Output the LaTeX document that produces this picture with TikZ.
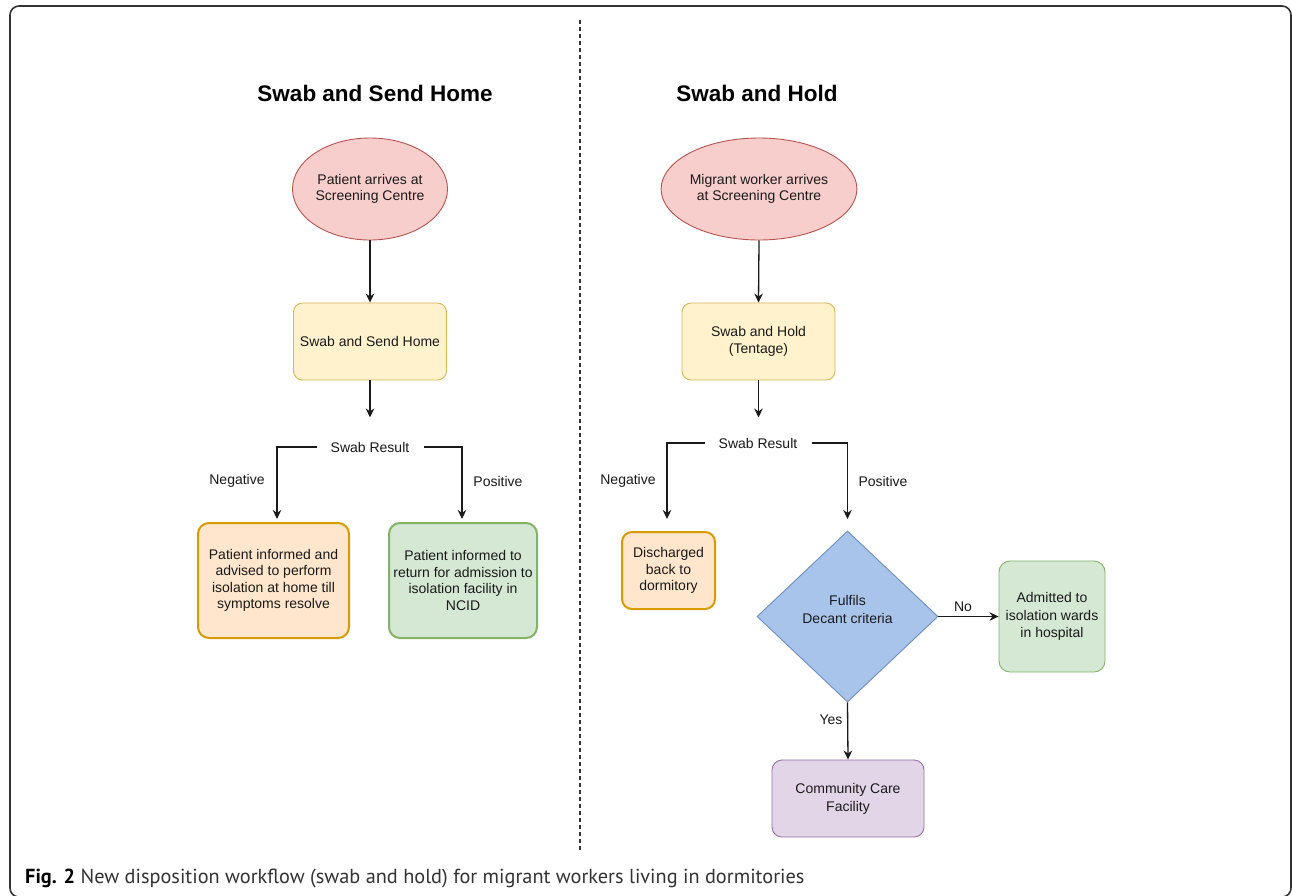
\documentclass[tikz,border=0pt]{standalone}
\usepackage{fontspec}
\setmainfont{Liberation Sans}
\newfontfamily\capfont{PT Sans}
\usetikzlibrary{shapes.geometric,arrows.meta}
\definecolor{txt}{HTML}{1A1A1A}
\definecolor{framec}{HTML}{333333}
\definecolor{captxt}{HTML}{333333}
\definecolor{redfill}{HTML}{F8CECC}
\definecolor{redline}{HTML}{B85450}
\definecolor{yelfill}{HTML}{FFF2CC}
\definecolor{yelline}{HTML}{D6B656}
\definecolor{orafill}{HTML}{FFE6CC}
\definecolor{oraline}{HTML}{D79B00}
\definecolor{grnfill}{HTML}{D5E8D4}
\definecolor{grnline}{HTML}{82B366}
\definecolor{blufill}{HTML}{A9C4EB}
\definecolor{bluline}{HTML}{6C8EBF}
\definecolor{purfill}{HTML}{E1D5E7}
\definecolor{purline}{HTML}{9673A6}
\tikzset{
  boxtext/.style={font=\fontsize{14}{16.5}\selectfont, text=txt, align=center},
  widetext/.style={font=\fontsize{14}{17.8}\selectfont},
  startnode/.style={boxtext, ellipse, draw=redline, fill=redfill, line width=0.9pt,
    minimum width=155pt, minimum height=102pt, inner sep=0pt},
  procbox/.style={boxtext, rectangle, rounded corners=9pt, draw=yelline, fill=yelfill,
    line width=0.9pt, minimum width=153pt, minimum height=77pt, inner sep=2pt},
  orabox/.style={boxtext, rectangle, rounded corners=11pt, draw=oraline, fill=orafill,
    line width=2pt, inner sep=2pt},
  grnbox/.style={boxtext, rectangle, rounded corners=11pt, draw=grnline, fill=grnfill,
    line width=2pt, inner sep=2pt},
  grnthin/.style={grnbox, widetext, line width=0.9pt},
  purbox/.style={boxtext, widetext, rectangle, rounded corners=10pt, draw=purline, fill=purfill,
    line width=0.9pt, inner sep=2pt},
  decision/.style={boxtext, widetext, diamond, draw=bluline, fill=blufill, line width=0.9pt,
    minimum width=181pt, minimum height=171pt, inner sep=0pt},
  lbl/.style={font=\fontsize{14}{16.5}\selectfont, text=txt, inner sep=0pt},
  result/.style={lbl, inner xsep=14pt, inner ysep=2pt},
  titletext/.style={font=\fontsize{22.5}{26}\selectfont\bfseries, text=black},
  conn/.style={draw=txt, line width=1.3pt, -{Stealth[length=9pt,width=8.5pt]}},
}
\begin{document}
\begin{tikzpicture}[x=1pt,y=-1pt]
\useasboundingbox (0,0) rectangle (1292,895);
\fill[white] (0,0) rectangle (1292,895);
% frame
\draw[framec, line width=1.6pt, rounded corners=9pt] (10,6) rectangle (1291,897);
% divider
\draw[framec, line width=1.1pt, dash pattern=on 4pt off 3pt] (580,20) -- (580,850);

% titles
\node[titletext] (t1) at (375,93) {Swab and Send Home};
\node[titletext] (t2) at (757,93) {Swab and Hold};

% left column
\node[startnode] (s1) at (370,189) {Patient arrives at\\Screening Centre};
\node[procbox] (p1) at (370,341.5) {Swab and Send Home};
\node[result] (r1) at (370,447) {Swab Result};
\node[orabox, minimum width=151pt, minimum height=115pt] (n1) at (273.5,580.5)
  {Patient informed and\\advised to perform\\isolation at home till\\symptoms resolve};
\node[grnbox, minimum width=148pt, minimum height=115pt] (q1) at (463,580.5)
  {Patient informed to\\return for admission to\\isolation facility in\\NCID};
\node[lbl] (neg1) at (237,481) {Negative};
\node[lbl] (pos1) at (498,481) {Positive};
\coordinate (n1in) at (277,519);
\coordinate (q1in) at (462,519);

\draw[conn] (s1.south) -- (p1.north);
\draw[conn] (p1.south) -- ++(0,37);
\draw[conn] (r1.west) -| (n1in);
\draw[conn] (r1.east) -| (q1in);

% right column
\node[startnode] (s2) at (759,189) {Migrant worker arrives\\at Screening Centre};
\node[procbox] (p2) at (758.5,341.5) {Swab and Hold\\(Tentage)};
\node[result] (r2) at (758,443) {Swab Result};
\node[orabox, minimum width=93pt, minimum height=77pt, rounded corners=10pt] (n2) at (668.5,570.5)
  {Discharged\\back to\\dormitory};
\node[decision] (d2) at (847.5,616.5) {Fulfils\\Decant criteria\\[-3pt]};
\node[grnthin, minimum width=106pt, minimum height=111pt] (h2) at (1052,616.5)
  {Admitted to\\isolation wards\\in hospital};
\node[purbox, minimum width=152pt, minimum height=77pt] (c2) at (848,798.5)
  {Community Care\\Facility};
\node[lbl] (neg2) at (628,481) {Negative};
\node[lbl] (pos2) at (883,481) {Positive};
\node[lbl] (no2) at (963,607) {No};
\node[lbl] (yes2) at (831,720) {Yes};
\coordinate (n2in) at (667,519);
\coordinate (d2in) at (847.5,519);

\draw[conn] (s2.south) -- (p2.north);
\draw[conn] (p2.south) -- ++(0,37);
\draw[conn] (r2.west) -| (n2in);
\draw[conn] (r2.east) -| (d2in);
\draw[conn] (d2.east) -- (h2.west);
\draw[conn] (d2.south) -- (c2.north);

% caption
\node[anchor=base west, inner sep=0pt, text=captxt, font=\capfont\fontsize{20.3}{22}\selectfont] (cap) at (25,883)
  {\textcolor{black}{\textbf{Fig. 2}} New disposition workflow (swab and hold) for migrant workers living in dormitories};
\end{tikzpicture}
\end{document}
